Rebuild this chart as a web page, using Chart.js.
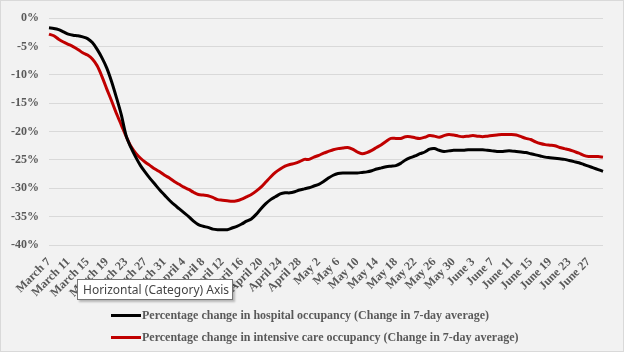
<!DOCTYPE html>
<html>
<head>
<meta charset="utf-8">
<script src="https://cdn.jsdelivr.net/npm/chart.js@4"></script>
<style>
  html, body { margin: 0; padding: 0; background: #f2f2f2; }
  #wrap { position: relative; width: 622px; height: 350px; border: 1px solid #d9d9d9; background: #f2f2f2; }
  canvas { position: absolute; left: 0; top: 0; }
  .leg { position: absolute; left: 110px; font: bold 12px "Liberation Serif", serif; color: #595959; white-space: nowrap; }
  .leg span { display: inline-block; width: 30px; height: 3px; vertical-align: middle; margin-right: 1px; position: relative; top: -1px; }
  #tip { position: absolute; left: 76px; top: 278px; width: 149px; height: 19px; background: #fff; border: 1px solid #767676;
         box-shadow: 2px 2px 2px rgba(0,0,0,0.25); font: 12px "Noto Sans", sans-serif; color: #444; line-height: 19px; padding-left: 5px; box-sizing: content-box; }
</style>
</head>
<body>
<div id="wrap">
  <canvas id="chart" width="622" height="350"></canvas>
  <div class="leg" style="top:307px"><span style="background:#000"></span>Percentage change in hospital occupancy (Change in 7-day average)</div>
  <div class="leg" style="top:329px"><span style="background:#c00000"></span>Percentage change in intensive care occupancy (Change in 7-day average)</div>
  <div id="tip">Horizontal (Category) Axis</div>
</div>
<script>
// Days from March 7 to June 30
const months = ["January", "February", "March", "April", "May", "June", "July"];
const labels = [];
for (let i = 0; i < 116; i++) {
    const d = new Date(2020, 2, 7 + i);
    labels.push(months[d.getMonth()] + " " + d.getDate());
}

// Percentage change in hospital occupancy (7-day average)
const hospital = [
    -1.7, -1.8, -2.0, -2.4, -2.8, -3.0, -3.1, -3.3, -3.6, -4.3,
    -5.5, -7.0, -8.8, -11.2, -14.0, -17.0, -20.7, -22.8, -24.5, -26.0,
    -27.2, -28.3, -29.3, -30.3, -31.2, -32.1, -32.9, -33.6, -34.3, -35.0,
    -35.8, -36.4, -36.7, -36.9, -37.2, -37.3, -37.3, -37.3, -37.0, -36.7,
    -36.3, -35.8, -35.4, -34.6, -33.6, -32.7, -32.0, -31.5, -31.0, -30.8,
    -30.8, -30.6, -30.3, -30.1, -29.9, -29.6, -29.3, -28.8, -28.2, -27.7,
    -27.4, -27.3, -27.3, -27.3, -27.3, -27.2, -27.1, -26.9, -26.6, -26.4,
    -26.2, -26.1, -26.0, -25.6, -25.0, -24.6, -24.3, -23.9, -23.6, -23.1,
    -23.0, -23.3, -23.5, -23.4, -23.3, -23.3, -23.3, -23.2, -23.2, -23.2,
    -23.2, -23.3, -23.4, -23.5, -23.5, -23.4, -23.4, -23.5, -23.6, -23.7,
    -23.9, -24.1, -24.3, -24.5, -24.6, -24.7, -24.8, -24.9, -25.1, -25.3,
    -25.5, -25.8, -26.1, -26.4, -26.7, -27.0
];

// Percentage change in intensive care occupancy (7-day average)
const icu = [
    -2.8, -3.1, -3.7, -4.2, -4.6, -5.0, -5.5, -6.1, -6.5, -7.2,
    -8.4, -10.3, -12.5, -14.6, -16.8, -18.8, -20.8, -22.6, -23.8, -24.7,
    -25.4, -26.0, -26.6, -27.1, -27.7, -28.2, -28.8, -29.3, -29.8, -30.2,
    -30.7, -31.1, -31.2, -31.3, -31.6, -32.0, -32.1, -32.2, -32.3, -32.2,
    -31.9, -31.5, -31.1, -30.5, -29.8, -28.9, -28.0, -27.2, -26.6, -26.1,
    -25.8, -25.6, -25.3, -24.9, -24.9, -24.5, -24.2, -23.8, -23.5, -23.2,
    -23.0, -22.9, -22.8, -23.1, -23.6, -23.9, -23.7, -23.3, -22.8, -22.3,
    -21.7, -21.2, -21.2, -21.2, -20.9, -20.9, -21.1, -21.2, -21.0, -20.7,
    -20.8, -21.0, -20.7, -20.5, -20.6, -20.8, -20.9, -20.8, -20.7, -20.8,
    -20.9, -20.8, -20.7, -20.6, -20.5, -20.5, -20.5, -20.6, -20.9, -21.2,
    -21.4, -21.8, -22.1, -22.3, -22.4, -22.5, -22.8, -23.0, -23.2, -23.5,
    -23.8, -24.2, -24.4, -24.4, -24.4, -24.5
];

const gray = "#595959";
const serif = "'Liberation Serif', 'Times New Roman', serif";

const ctx = document.getElementById("chart").getContext("2d");
new Chart(ctx, {
    type: "line",
    data: {
        labels,
        datasets: [{
            label: "Percentage change in hospital occupancy (Change in 7-day average)",
            data: hospital,
            borderColor: "#000000",
            borderWidth: 3,
            pointRadius: 0,
            tension: 0.3
        }, {
            label: "Percentage change in intensive care occupancy (Change in 7-day average)",
            data: icu,
            borderColor: "#c00000",
            borderWidth: 3,
            pointRadius: 0,
            tension: 0.3
        }]
    },
    options: {
        animation: false,
        responsive: false,
        layout: { padding: { left: 0, right: 20, top: 14, bottom: 0 } },
        plugins: {
            legend: { display: false },
            tooltip: { enabled: false }
        },
        scales: {
            x: {
                offset: false,
                grid: { display: false },
                border: { display: false },
                afterFit: (s) => { s.height = 106; },
                ticks: {
                    autoSkip: false,
                    minRotation: 45,
                    maxRotation: 45,
                    padding: 2,
                    color: gray,
                    font: { family: serif, size: 12, weight: "bold" },
                    callback: function (value, index) {
                        return index % 4 === 0 ? this.getLabelForValue(value) : "";
                    }
                }
            },
            y: {
                min: -40,
                max: 0,
                afterFit: (s) => { s.width = 48; },
                grid: { color: "#d9d9d9", lineWidth: 1, drawTicks: false },
                border: { display: false },
                ticks: {
                    stepSize: 5,
                    padding: 10,
                    color: gray,
                    font: { family: serif, size: 12, weight: "bold" },
                    callback: (v) => v + "%"
                }
            }
        }
    }
});
</script>
</body>
</html>
